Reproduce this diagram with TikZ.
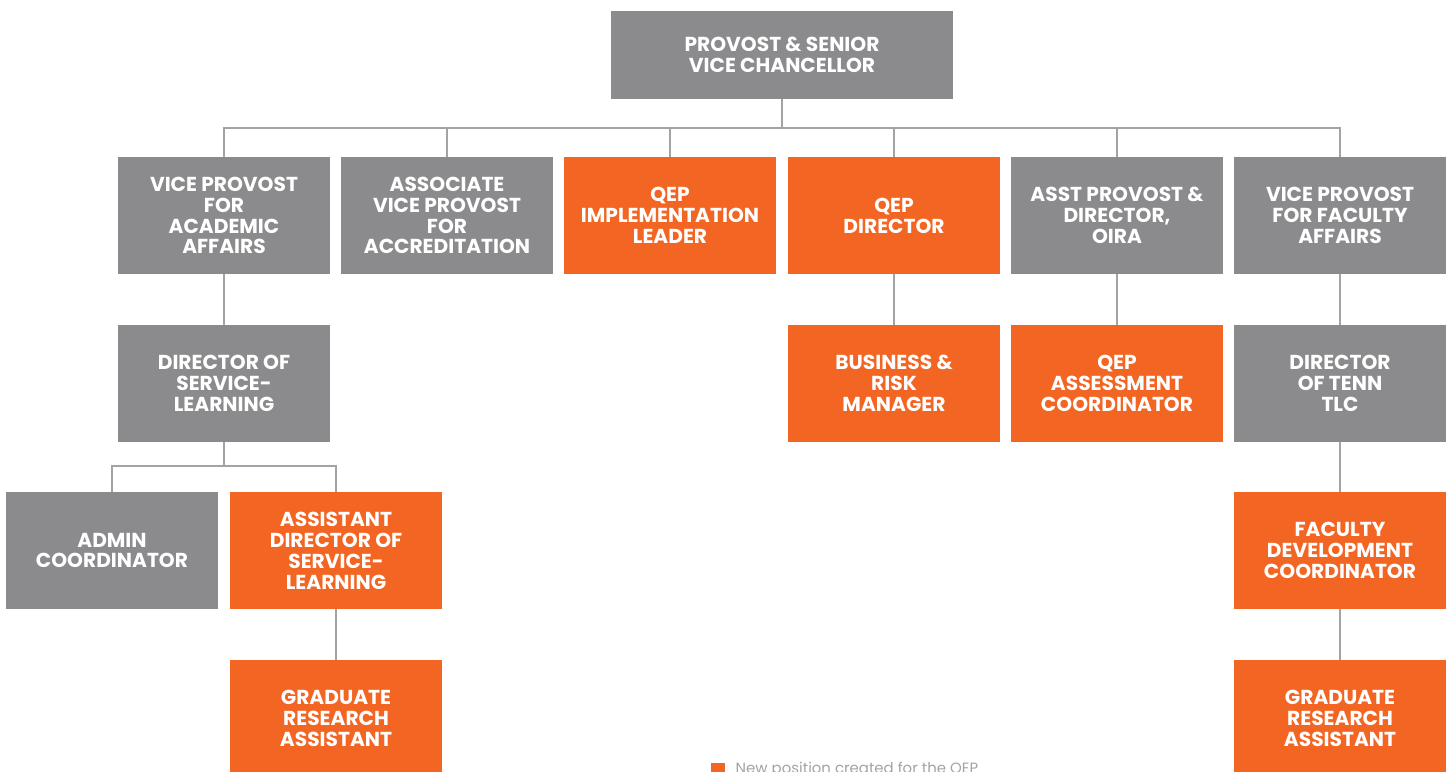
\documentclass[tikz,border=0pt]{standalone}
\usepackage{fontspec}
\setmainfont{Poppins}
\usetikzlibrary{positioning}
\definecolor{boxgray}{HTML}{8B8B8D}
\definecolor{qeporange}{HTML}{F26522}
\definecolor{linkgray}{HTML}{A3A3A3}
\begin{document}
\begin{tikzpicture}
[x=0.02cm,y=-0.02cm,
post/.style={rectangle,fill=boxgray,text=white,font=\bfseries\fontsize{11.5}{11.9}\selectfont,
align=center,inner sep=0pt,minimum width=4.24cm,minimum height=2.34cm},
newpost/.style={post,fill=qeporange},
link/.style={draw=linkgray,line width=1pt}]
       \useasboundingbox (0,0) rectangle (1450,771);
       % top of the chart
       \node (provost) at (782,55) [post,minimum width=6.84cm,minimum height=1.76cm]
            {PROVOST \& SENIOR\\VICE CHANCELLOR};
       % first row
       \node (vpaa) at (224,215.5) [post] {VICE PROVOST\\FOR\\ACADEMIC\\AFFAIRS};
       \node (avpa) at (447,215.5) [post] {ASSOCIATE\\VICE PROVOST\\FOR\\ACCREDITATION};
       \node (impl) at (670,215.5) [newpost] {QEP\\IMPLEMENTATION\\LEADER};
       \node (qepdir) at (894,215.5) [newpost] {QEP\\DIRECTOR};
       \node (oira) at (1117,215.5) [post] {ASST PROVOST \&\\DIRECTOR,\\OIRA};
       \node (vpfa) at (1340,215.5) [post] {VICE PROVOST\\FOR FACULTY\\AFFAIRS};
       % second row
       \node (dirsl) at (224,383.5) [post] {DIRECTOR OF\\SERVICE-\\LEARNING};
       \node (risk) at (894,383.5) [newpost] {BUSINESS \&\\RISK\\MANAGER};
       \node (assess) at (1117,383.5) [newpost] {QEP\\ASSESSMENT\\COORDINATOR};
       \node (tenn) at (1340,383.5) [post] {DIRECTOR\\OF TENN\\TLC};
       % third row
       \node (admin) at (112,550.5) [post] {ADMIN\\COORDINATOR};
       \node (asstdir) at (336,550.5) [newpost] {ASSISTANT\\DIRECTOR OF\\SERVICE-\\LEARNING};
       \node (facdev) at (1340,550.5) [newpost] {FACULTY\\DEVELOPMENT\\COORDINATOR};
       % fourth row
       \node (grad1) at (336,718.5) [newpost] {GRADUATE\\RESEARCH\\ASSISTANT};
       \node (grad2) at (1340,718.5) [newpost] {GRADUATE\\RESEARCH\\ASSISTANT};
       % legend
       \node (key) at (718,770) [fill=qeporange,inner sep=0pt,minimum size=0.28cm] {};
       \node (keytext) [right=0.2cm of key,inner sep=0pt,text=linkgray,
            font=\fontsize{8.5}{10}\selectfont] {New position created for the QEP};
       % connectors
       \coordinate (topbus) at (783,128);
       \coordinate (slbus) at (224,466);
       \draw[link] (provost.south) -- (provost.south |- topbus);
       \draw[link] (vpaa.north) |- (topbus) -| (vpfa.north);
       \foreach \n in {avpa,impl,qepdir,oira}
         \draw[link] (\n.north) -- (\n.north |- topbus);
       \draw[link] (vpaa) -- (dirsl);
       \draw[link] (qepdir) -- (risk);
       \draw[link] (oira) -- (assess);
       \draw[link] (vpfa) -- (tenn);
       \draw[link] (dirsl.south) -- (slbus);
       \draw[link] (admin.north) |- (slbus) -| (asstdir.north);
       \draw[link] (asstdir) -- (grad1);
       \draw[link] (tenn) -- (facdev);
       \draw[link] (facdev) -- (grad2);
    \end{tikzpicture}
\end{document}
